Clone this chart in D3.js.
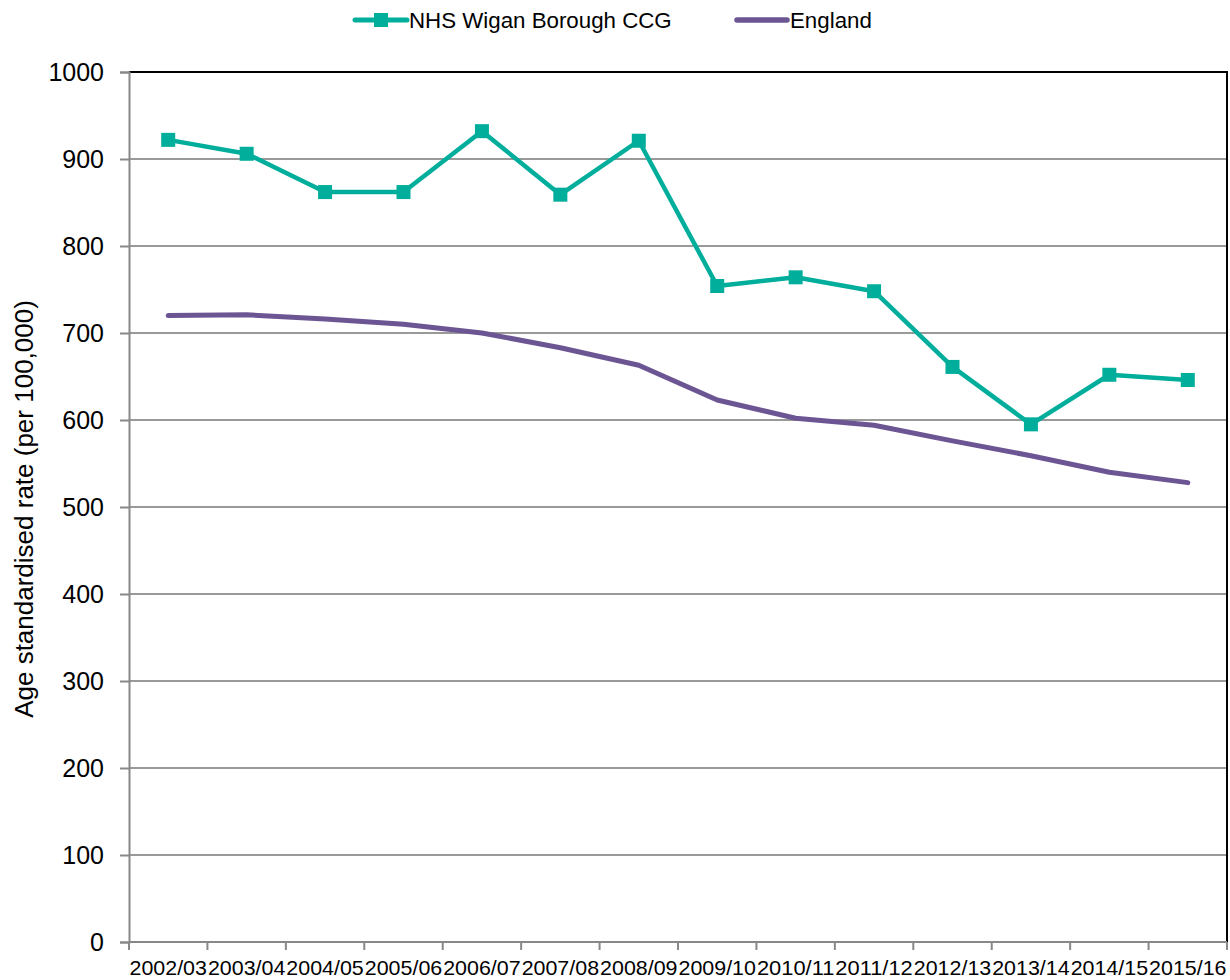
<!DOCTYPE html>
<html>
<head>
<meta charset="utf-8">
<script src="https://cdn.jsdelivr.net/npm/d3@7"></script>
<style>
  html, body { margin: 0; padding: 0; background: #fff; }
  svg { display: block; font-family: "Liberation Sans", Arial, sans-serif; }
</style>
</head>
<body>
<svg id="chart" width="1230" height="980"></svg>
<script>
// Financial years on the x axis
const years = ["2002/03", "2003/04", "2004/05", "2005/06", "2006/07", "2007/08", "2008/09",
               "2009/10", "2010/11", "2011/12", "2012/13", "2013/14", "2014/15", "2015/16"];

// Age standardised rate per 100,000
const wiganValues = [922, 906, 862, 862, 932, 859, 921, 754, 764, 748, 661, 595, 652, 646];
const englandValues = [720, 721, 716, 710, 700, 683, 663, 623, 602, 594, 576, 559, 540, 528];

const yTicks = [0, 100, 200, 300, 400, 500, 600, 700, 800, 900, 1000];

const seriesNames = ["NHS Wigan Borough CCG", "England"];
const teal = "#00ae9b";
const purple = "#6c5593";

const svg = d3.select("#chart");
const plot = { left: 129, right: 1227, top: 72, bottom: 942 };

const x = d3.scaleBand().domain(years).range([plot.left, plot.right]).padding(0);
const y = d3.scaleLinear().domain([0, 1000]).range([plot.bottom, plot.top]);
const cx = d => x(d) + x.bandwidth() / 2;

// Horizontal gridlines
svg.append("g")
  .selectAll("line")
  .data(yTicks.filter(t => t > 0 && t < 1000))
  .join("line")
  .attr("x1", plot.left).attr("x2", plot.right)
  .attr("y1", d => y(d)).attr("y2", d => y(d))
  .attr("stroke", "#999").attr("stroke-width", 2);

// Plot-area frame: top and right edges
svg.append("path")
  .attr("d", `M${plot.left},${plot.top}H${plot.right}V${plot.bottom}`)
  .attr("fill", "none").attr("stroke", "#000").attr("stroke-width", 2);

// Y axis
const yAxis = svg.append("g")
  .attr("transform", `translate(${plot.left},0)`)
  .call(d3.axisLeft(y).tickValues(yTicks).tickSize(9).tickPadding(16).tickFormat(d3.format("d")));
yAxis.select(".domain").attr("stroke", "#888").attr("stroke-width", 2);
yAxis.selectAll(".tick line").attr("stroke", "#888").attr("stroke-width", 2);
yAxis.selectAll(".tick text")
  .attr("font-size", 25).attr("fill", "#000")
  .attr("font-family", "Liberation Sans, Arial, sans-serif");

// X axis with ticks on category boundaries
const xAxis = svg.append("g")
  .attr("transform", `translate(0,${plot.bottom})`);
xAxis.append("line")
  .attr("x1", plot.left).attr("x2", plot.right)
  .attr("stroke", "#888").attr("stroke-width", 2);
const boundaries = years.map(d => x(d)).concat([plot.right]);
xAxis.selectAll("line.tick")
  .data(boundaries)
  .join("line").attr("class", "tick")
  .attr("x1", d => d).attr("x2", d => d)
  .attr("y1", 0).attr("y2", 8)
  .attr("stroke", "#888").attr("stroke-width", 2);
xAxis.selectAll("text")
  .data(years)
  .join("text")
  .attr("x", d => cx(d))
  .attr("y", 33)
  .attr("text-anchor", "middle")
  .attr("font-size", 21)
  .attr("textLength", x.bandwidth() - 1)
  .attr("lengthAdjust", "spacingAndGlyphs")
  .attr("fill", "#000")
  .text(d => d);

// Y axis title
svg.append("text")
  .attr("transform", `translate(33,${(plot.top + plot.bottom) / 2 + 2}) rotate(-90)`)
  .attr("text-anchor", "middle")
  .attr("font-size", 26)
  .attr("fill", "#000")
  .text("Age standardised rate (per 100,000)");

const line = d3.line().x((d, i) => cx(years[i])).y(d => y(d));

// England line
svg.append("path")
  .datum(englandValues)
  .attr("d", line)
  .attr("fill", "none")
  .attr("stroke", purple)
  .attr("stroke-width", 5)
  .attr("stroke-linecap", "round")
  .attr("stroke-linejoin", "round");

// Wigan line with square markers
svg.append("path")
  .datum(wiganValues)
  .attr("d", line)
  .attr("fill", "none")
  .attr("stroke", teal)
  .attr("stroke-width", 4.5)
  .attr("stroke-linejoin", "round");

const ms = 14;
svg.append("g")
  .selectAll("rect")
  .data(wiganValues)
  .join("rect")
  .attr("x", (d, i) => cx(years[i]) - ms / 2)
  .attr("y", d => y(d) - ms / 2)
  .attr("width", ms).attr("height", ms)
  .attr("fill", teal);

// Legend
const legend = svg.append("g");
const lg1 = legend.append("g").attr("transform", "translate(355,20)");
lg1.append("line").attr("x1", 0).attr("x2", 52).attr("y1", 0).attr("y2", 0)
  .attr("stroke", teal).attr("stroke-width", 5).attr("stroke-linecap", "round");
lg1.append("rect").attr("x", 26 - ms / 2).attr("y", -ms / 2).attr("width", ms).attr("height", ms)
  .attr("fill", teal);
lg1.append("text").attr("x", 54).attr("y", 8).attr("font-size", 22.3).attr("fill", "#000")
  .text(seriesNames[0]);

const lg2 = legend.append("g").attr("transform", "translate(737,20)");
lg2.append("line").attr("x1", 0).attr("x2", 50).attr("y1", 0).attr("y2", 0)
  .attr("stroke", purple).attr("stroke-width", 5.5).attr("stroke-linecap", "round");
lg2.append("text").attr("x", 53).attr("y", 8).attr("font-size", 22.3).attr("fill", "#000")
  .text(seriesNames[1]);
</script>
</body>
</html>
